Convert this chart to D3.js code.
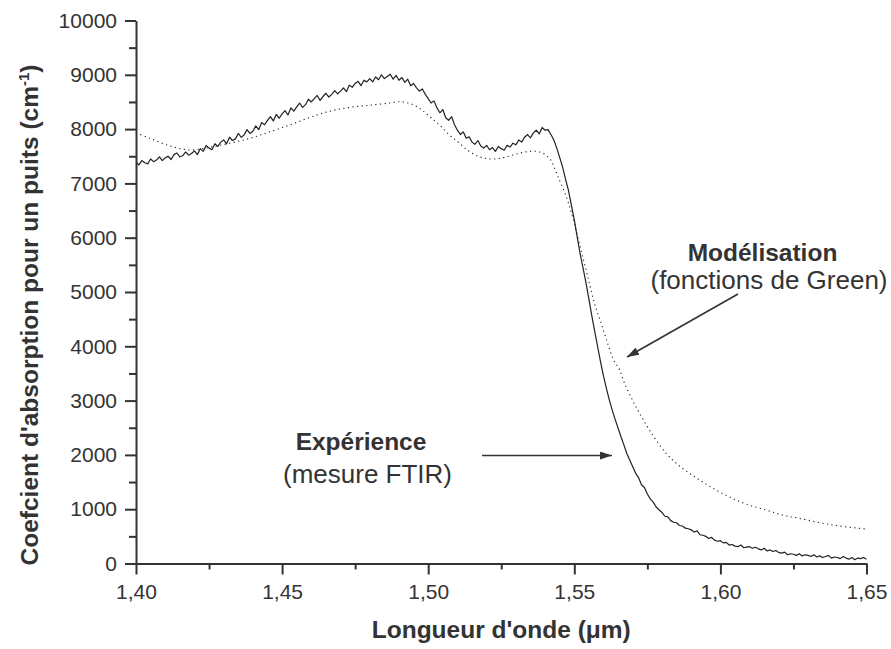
<!DOCTYPE html>
<html><head><meta charset="utf-8">
<script src="https://cdn.jsdelivr.net/npm/d3@7"></script>
<style>
body{margin:0;background:#fff}
svg{display:block}
text{font-family:"Liberation Sans",Arial,Helvetica,sans-serif;fill:#333}
</style>
</head><body>
<svg id="chart" width="891" height="649"></svg>
<script>
// ---- data ----
const xTickValues = [1.40, 1.45, 1.50, 1.55, 1.60, 1.65];
const xTickLabels = ["1,40", "1,45", "1,50", "1,55", "1,60", "1,65"];
const xMinorTicks = [1.425, 1.475, 1.525, 1.575, 1.625];
const yTickValues = [0, 1000, 2000, 3000, 4000, 5000, 6000, 7000, 8000, 9000, 10000];
const yMinorTicks = [500, 1500, 2500, 3500, 4500, 5500, 6500, 7500, 8500, 9500];

// Experiment (FTIR), sampled every 0.001 µm from 1.400 to 1.650
const expStart = 1.400, expStep = 0.001;
const expValues = [
 7390,7340,7420,7380,7360,7450,7400,7430,7490,7420,
 7470,7500,7440,7530,7560,7490,7510,7580,7520,7550,
 7600,7530,7640,7590,7700,7650,7620,7730,7680,7760,
 7800,7730,7850,7790,7820,7920,7850,7890,7990,7920,
 7960,8060,7990,8120,8080,8160,8230,8150,8270,8200,
 8280,8340,8260,8390,8330,8410,8480,8400,8450,8550,
 8500,8560,8620,8530,8600,8660,8590,8640,8710,8650,
 8700,8760,8690,8810,8770,8840,8880,8800,8900,8870,
 8930,8870,8960,8910,9000,8930,8970,9010,8920,8990,
 8900,8950,8860,8920,8800,8840,8760,8700,8740,8640,
 8560,8480,8520,8390,8300,8360,8210,8160,8230,8080,
 7980,7900,7950,7830,7860,7760,7720,7790,7690,7650,
 7700,7620,7660,7590,7680,7640,7610,7700,7670,7740,
 7710,7800,7760,7850,7900,7840,7930,7980,7910,8030,
 7980,7990,7900,7800,7650,7480,7300,7080,6870,6600,
 6330,6010,5700,5440,5170,4870,4560,4270,3990,3710,
 3450,3220,3010,2820,2650,2490,2330,2180,2020,1900,
 1780,1660,1580,1450,1400,1280,1190,1130,1040,990,
 940,870,860,790,760,750,700,690,650,640,
 620,580,600,530,520,500,460,480,430,410,
 420,380,390,340,350,320,310,340,290,300,
 310,280,300,270,250,280,230,250,220,240,
 200,190,210,160,180,170,150,180,140,160,
 150,130,160,120,140,110,130,150,100,120,
 110,90,130,100,80,110,70,100,90,110,
 80
];

// Model (Green's functions)
const modelX = [1.4000,1.4048,1.4116,1.4185,1.4253,1.4321,1.4390,1.4458,1.4526,1.4595,
                1.4663,1.4731,1.4800,1.4868,1.4902,1.4936,1.4971,1.5005,1.5039,1.5073,
                1.5107,1.5141,1.5176,1.5210,1.5244,1.5278,1.5312,1.5347,1.5381,1.5415,
                1.5442,1.5476,1.5500,1.5523,1.5546,1.5569,1.5592,1.5614,1.5637,1.5654,
                1.5671,1.5699,1.5722,1.5757,1.5814,1.5871,1.5928,1.5985,1.6041,1.6098,
                1.6156,1.6212,1.6269,1.6383,1.6500];
const modelY = [7930,7830,7690,7615,7665,7740,7830,7950,8075,8215,
                8330,8400,8440,8480,8505,8475,8380,8230,8075,7890,
                7740,7585,7490,7450,7460,7505,7555,7590,7580,7460,
                7150,6700,6265,5773,5282,4792,4424,4055,3720,3580,
                3330,3010,2780,2460,2030,1750,1540,1355,1200,1077,
                985,893,832,709,635];

const xTitle = "Longueur d'onde (\u03BCm)";
const yTitle = "Coefcient d'absorption pour un puits (cm";

// ---- chart ----
const svg = d3.select("#chart");
const x = d3.scaleLinear().domain([1.40, 1.65]).range([136, 866.5]);
const y = d3.scaleLinear().domain([0, 10000]).range([563.5, 20.5]);
const ink = "#333";

const defs = svg.append("defs");
defs.append("marker").attr("id", "arrow")
  .attr("viewBox", "0 0 12 8").attr("refX", 12).attr("refY", 4)
  .attr("markerWidth", 12).attr("markerHeight", 8)
  .attr("markerUnits", "userSpaceOnUse").attr("orient", "auto")
  .append("path").attr("d", "M0,0 L12,4 L0,8 Z").attr("fill", ink);

// curves
const expData = expValues.map((v, i) => [expStart + i * expStep, v]);
const modelData = modelX.map((v, i) => [v, modelY[i]]);

svg.append("path").datum(modelData)
  .attr("d", d3.line().x(d => x(d[0])).y(d => y(d[1])).curve(d3.curveCatmullRom))
  .attr("fill", "none").attr("stroke", "#222").attr("stroke-width", 1.1)
  .attr("stroke-dasharray", "1.2,3.4");

svg.append("path").datum(expData)
  .attr("d", d3.line().x(d => x(d[0])).y(d => y(d[1])))
  .attr("fill", "none").attr("stroke", "#222").attr("stroke-width", 1.2)
  .attr("stroke-linejoin", "round");

// axes
function styleAxis(g) {
  g.selectAll(".domain").attr("stroke", ink).attr("stroke-width", 2);
  g.selectAll(".tick line").attr("stroke", ink).attr("stroke-width", 2);
  g.selectAll(".tick text").attr("fill", ink)
    .style("font-family", '"Liberation Sans",Arial,sans-serif').style("font-size", "21px");
}

const gxMinor = svg.append("g").attr("transform", `translate(0,${y(0)})`)
  .call(d3.axisBottom(x).tickValues(xMinorTicks).tickSize(6).tickFormat("").tickSizeOuter(0));
gxMinor.select(".domain").remove();
styleAxis(gxMinor);

const gyMinor = svg.append("g").attr("transform", `translate(${x(1.40)},0)`)
  .call(d3.axisLeft(y).tickValues(yMinorTicks).tickSize(7).tickFormat("").tickSizeOuter(0));
gyMinor.select(".domain").remove();
styleAxis(gyMinor);

const gx = svg.append("g").attr("transform", `translate(0,${y(0)})`)
  .call(d3.axisBottom(x).tickValues(xTickValues).tickSize(11).tickPadding(10)
    .tickFormat((d, i) => xTickLabels[i]).tickSizeOuter(0));
styleAxis(gx);

const gy = svg.append("g").attr("transform", `translate(${x(1.40)},0)`)
  .call(d3.axisLeft(y).tickValues(yTickValues).tickSize(11).tickPadding(8)
    .tickFormat(d3.format("d")).tickSizeOuter(0));
styleAxis(gy);

// axis titles
svg.append("text").attr("x", (x(1.40) + x(1.65)) / 2).attr("y", 638)
  .attr("text-anchor", "middle").style("font-size", "24.5px").style("font-weight", "bold")
  .text(xTitle);

const yt = svg.append("text")
  .attr("transform", `translate(38,${(578 + 52) / 2}) rotate(-90)`)
  .attr("text-anchor", "middle").style("font-size", "24.5px").style("font-weight", "bold");
yt.append("tspan").text(yTitle);
yt.append("tspan").attr("dy", -9).style("font-size", "15px").text("-1");
yt.append("tspan").attr("dy", 9).text(")");

// annotations
svg.append("text").attr("x", 762.5).attr("y", 261).attr("text-anchor", "middle")
  .style("font-size", "24.5px").style("font-weight", "bold").text("Modélisation");
svg.append("text").attr("x", 769).attr("y", 289).attr("text-anchor", "middle")
  .style("font-size", "26px").text("(fonctions de Green)");
svg.append("line").attr("x1", 738).attr("y1", 294).attr("x2", 627).attr("y2", 357)
  .attr("stroke", ink).attr("stroke-width", 1.6).attr("marker-end", "url(#arrow)");

svg.append("text").attr("x", 361).attr("y", 450).attr("text-anchor", "middle")
  .style("font-size", "24.5px").style("font-weight", "bold").text("Expérience");
svg.append("text").attr("x", 367.5).attr("y", 483).attr("text-anchor", "middle")
  .style("font-size", "26px").text("(mesure FTIR)");
svg.append("line").attr("x1", 482).attr("y1", 455.5).attr("x2", 612).attr("y2", 455.5)
  .attr("stroke", ink).attr("stroke-width", 1.6).attr("marker-end", "url(#arrow)");
</script>
</body></html>
